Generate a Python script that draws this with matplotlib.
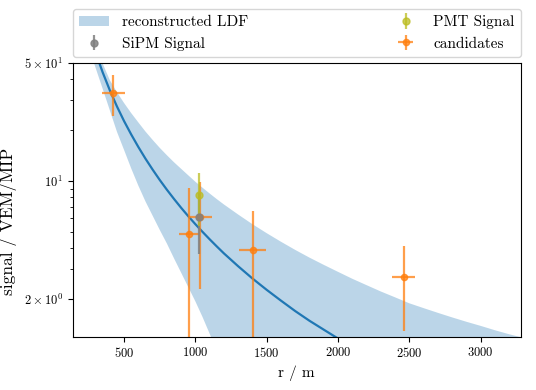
import matplotlib
matplotlib.use("Agg")
import matplotlib.pyplot as plt
from matplotlib.patches import Patch

plt.rcParams["font.family"] = "serif"
plt.rcParams["font.serif"] = ["cmr10", "DejaVu Serif"]
plt.rcParams["mathtext.fontset"] = "cm"
plt.rcParams["axes.formatter.use_mathtext"] = True
plt.rcParams["axes.unicode_minus"] = False

# reconstructed LDF (50 m steps to 1200 m, then 100 m)
r_ldf = [250, 300, 350, 400, 450, 500, 550, 600, 650, 700, 750, 800, 850,
         900, 950, 1000, 1050, 1100, 1150, 1200,
         1300, 1400, 1500, 1600, 1700, 1800, 1900, 2000, 2100, 2200, 2300,
         2400, 2500, 2600, 2700, 2800, 2900, 3000, 3100, 3200, 3300, 3400]
ldf_mid = [79.1, 57.7, 43.9, 34.4, 27.6, 22.6, 18.84, 15.89, 13.55, 11.68,
           10.14, 8.88, 7.83, 6.94, 6.19, 5.55, 5.00, 4.52, 4.10, 3.73,
           3.13, 2.65, 2.27, 1.96, 1.70, 1.49, 1.32, 1.17, 1.04, 0.93, 0.84,
           0.76, 0.69, 0.62, 0.57, 0.52, 0.48, 0.44, 0.41, 0.38, 0.35, 0.32]
ldf_hi = [80.0, 61.0, 49.5, 39.5, 33.5, 28.9, 25.2, 22.2, 19.6, 17.5,
          15.7, 14.2, 12.9, 11.8, 10.8, 9.89, 9.12, 8.43, 7.81, 7.26,
          6.33, 5.55, 4.91, 4.37, 3.91, 3.52, 3.19, 2.90, 2.64, 2.42, 2.22,
          2.05, 1.89, 1.77, 1.66, 1.56, 1.47, 1.39, 1.31, 1.24, 1.18, 1.12]
ldf_lo = [63.0, 46.8, 35.1, 26.2, 19.55, 15.26, 11.87, 9.39, 7.57, 6.24,
          5.14, 4.27, 3.49, 2.87, 2.36, 1.94, 1.57, 1.25, 0.99, 0.78,
          0.5, 0.3, 0.2, 0.13, 0.09, 0.06, 0.04, 0.03, 0.02, 0.02, 0.02,
          0.02, 0.02, 0.02, 0.02, 0.02, 0.02, 0.02, 0.02, 0.02, 0.02, 0.02]

# stations
cand_r = [425, 955, 1035, 1402, 2459]
cand_r_err = [80, 68, 83, 95, 78]
cand_s = [33.1, 4.84, 6.1, 3.92, 2.70]
cand_s_err = [9.0, 4.2, 3.8, 2.75, 1.4]

sipm_r = [1027]
sipm_s = [6.1]
sipm_err = [2.4]

pmt_r = [1024]
pmt_s = [8.26]
pmt_err = [2.85]

y_ticks = [2, 10, 50]
y_ticklabels = [r"$2\times10^{0}$", r"$10^{1}$", r"$5\times10^{1}$"]

fig = plt.figure(figsize=(5.36, 3.90), dpi=100)
ax = fig.add_axes([0.1356, 0.1367, 0.8358, 0.7025])

ax.fill_between(r_ldf, ldf_lo, ldf_hi, color="C0", alpha=0.3, lw=0)
ax.plot(r_ldf, ldf_mid, color="C0", lw=1.6)

h_cand = ax.errorbar(cand_r, cand_s, xerr=cand_r_err, yerr=cand_s_err,
                     fmt="o", color="C1", ms=4.5, alpha=0.75, lw=1.6)
h_sipm = ax.errorbar(sipm_r, sipm_s, yerr=sipm_err, fmt="o", color="gray",
                     ms=5, alpha=0.85, lw=1.6)
h_pmt = ax.errorbar(pmt_r, pmt_s, yerr=pmt_err, fmt="o", color="C8",
                    ms=5, alpha=0.75, lw=1.6)

ax.set_yscale("log")
ax.set_xlim(140, 3280)
ax.set_ylim(1.2, 50)
ax.set_yticks(y_ticks, labels=y_ticklabels)
ax.tick_params(labelsize=9)
ax.set_xlabel("r / m", fontsize=11)
ax.set_ylabel("signal / VEM/MIP", fontsize=12.5)
ax.yaxis.set_label_coords(-0.125, 0.42)

band_handle = Patch(facecolor="C0", alpha=0.3, lw=0)
ax.legend([band_handle, h_sipm, h_pmt, h_cand],
          ["reconstructed LDF", "SiPM Signal", "PMT Signal", "candidates"],
          bbox_to_anchor=(0.0, 1.02, 1.0, 0.102), loc="lower left", ncol=2,
          mode="expand", borderaxespad=0.0, fontsize=11)

fig.savefig("out.png", dpi=100)
